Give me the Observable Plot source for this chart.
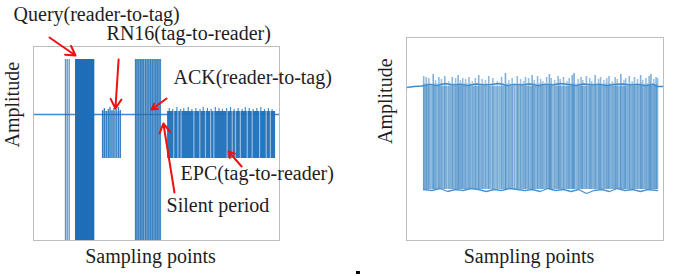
<!DOCTYPE html>
<html><head><meta charset="utf-8">
<script src="https://cdn.jsdelivr.net/npm/d3@7"></script>
<script src="https://cdn.jsdelivr.net/npm/@observablehq/plot@0.6"></script>
<style>
html,body{margin:0;padding:0;background:#fff;}
#wrap{position:relative;width:685px;height:276px;overflow:hidden;background:#fff;}
#wrap svg{position:absolute;top:0;overflow:visible;background:transparent;}
</style></head><body><div id="wrap"></div>
<script>
// ---- Left panel: RFID exchange (sample index 0..1000, amplitude) ----
const queryLead = [130, 137, 145];
const queryBlock = [172,175,178,181,184,187,190,193,196,199,202,205,208,211,214,217,220,223,226,229,232,235,238,241,244];
const queryRange = [-1.3, 0.55];
const rn16Pulses = [281,288,296,304,311,319,327,336,345,353];
const rn16Tops = [0.04,0.06,0.03,0.05,0.07,0.04,0.06,0.05,0.07,0.04];
const rn16Span = [280, 355];
const rn16Bottom = -0.44;
const ackPulses = [415,421,428,435,441,447,455,462,469,476,483,490,497,503,510,516];
const ackSpan = [414, 517];
const ackRange = [-1.3, 0.55];
const epcSpan = [545, 984];
const epcRange = [-0.44, 0.03];
const epcGaps = [570,587,600,652,676,699,720,733,787,808,821,841,869,889,919,946,963];
const epcSpikes = [552,566,583,598,611,629,644,660,677,690,707,722,739,754,768,785,801,816,832,848,861,877,893,908,924,939,955,970];
const epcSpikeTops = [0.06,0.05,0.07,0.05,0.06,0.07,0.05,0.06,0.05,0.07,0.06,0.05,0.07,0.06,0.05,0.06,0.07,0.05,0.06,0.05,0.07,0.06,0.05,0.06,0.07,0.05,0.06,0.05];

const leftLabels = ["Query(reader-to-tag)", "RN16(tag-to-reader)", "ACK(reader-to-tag)", "EPC(tag-to-reader)", "Silent period"];
const leftLabelX = [-81, 297, 569, 598, 541];
const leftLabelY = [1.0, 0.81, 0.37, -0.59, -0.91];
const arrowFrom = [[65, 0.77], [346, 0.55], [541, 0.16], [846, -0.52], [573, -0.78]];
const arrowTo   = [[171, 0.59], [333, 0.06], [480, 0.05], [793, -0.37], [528, -0.09]];
const strayMark = {x1: 1313, x2: 1329, y: -1.58};

// ---- Right panel ----
const rightSpan = [66, 977];
const rightRail = -1.03;
const rightPulses = [67,77,87,104,113,126,136,149,165,178,191,201,210,219,230,243,256,268,281,294,307,320,336,353,370,385,398,411,431,444,456,463,475,489,497,510,522,531,545,556,563,577,590,598,611,624,633,645,652,668,679,686,700,713,721,734,747,755,768,779,788,801,812,820,834,846,853,867,878,887,899,911,919,932,944,951,962,971,977];
const rightPeaks = [0.10,0.09,0.08,0.12,0.06,0.09,0.07,0.10,0.05,0.09,0.08,0.11,0.06,0.08,0.07,0.09,0.05,0.08,0.11,0.07,0.06,0.10,0.08,0.05,0.09,0.13,0.06,0.08,0.10,0.07,0.05,0.09,0.08,0.11,0.06,0.10,0.07,0.05,0.09,0.12,0.08,0.06,0.10,0.07,0.09,0.05,0.08,0.11,0.13,0.07,0.09,0.06,0.10,0.08,0.05,0.11,0.07,0.09,0.06,0.08,0.10,0.05,0.09,0.07,0.12,0.06,0.08,0.10,0.05,0.09,0.07,0.11,0.06,0.08,0.10,0.12,0.07,0.09,0.08];
const rightFine = [72,82,95,108,119,131,142,156,171,184,196,206,214,225,236,249,262,274,287,300,313,328,344,361,377,391,404,420,437,450,469,482,493,503,516,527,538,551,560,570,583,594,604,617,629,639,648,660,673,683,693,707,717,727,740,751,761,773,784,795,806,816,827,840,850,860,872,883,893,905,915,926,938,947,957,966,974];
const rightBaseX = [0,30,60,66,90,120,150,180,210,240,270,300,330,360,390,420,450,480,510,540,570,600,630,660,690,720,750,780,810,840,870,900,930,960,977,1000];
const rightBaseY = [-0.01,0,0.005,0.01,0.02,0.01,0.03,0.015,0.02,0.01,0.025,0.015,0.02,0.03,0.01,0.02,0.015,0.025,0.01,0.02,0.015,0.03,0.02,0.01,0.025,0.015,0.02,0.01,0.02,0.025,0.015,0.02,0.01,0.02,0.0,0.0];
const rightRailX = [66,100,130,160,190,220,250,280,310,340,370,400,430,460,490,520,550,580,610,640,670,700,730,760,790,820,850,880,910,940,977];
const rightRailY = [-1.03,-1.04,-1.02,-1.05,-1.03,-1.04,-1.02,-1.03,-1.05,-1.03,-1.04,-1.02,-1.03,-1.04,-1.03,-1.05,-1.02,-1.04,-1.03,-1.05,-1.03,-1.07,-1.04,-1.03,-1.05,-1.02,-1.04,-1.03,-1.05,-1.03,-1.04];

const xLabel = "Sampling points";
const yLabel = "Amplitude";

const FONT = "'Liberation Serif', 'Times New Roman', serif";
const DARK = "#1f6fb8";
const MID = "#2b7bbf";
const TXT = "#1e1e1e";
const FRAME = "#bdbdbd";

const wrap = document.getElementById("wrap");

const left = Plot.plot({
  width: 380, height: 276,
  marginLeft: 33, marginRight: 101, marginTop: 46, marginBottom: 36,
  x: {domain: [0, 1000], axis: null},
  y: {domain: [-1.26, 0.68], axis: null},
  style: {fontFamily: FONT, background: "transparent", overflow: "visible"},
  marks: [
    Plot.ruleY([0], {x1: 0, x2: 1000, stroke: "#3f8ad0", strokeWidth: 1.3}),
    // Query
    Plot.ruleX(queryLead, {x: d => d, y1: queryRange[0], y2: queryRange[1], stroke: DARK, strokeWidth: 1.3, strokeOpacity: 0.75, clip: true}),
    Plot.ruleX(queryBlock, {x: d => d, y1: queryRange[0], y2: queryRange[1], stroke: DARK, strokeWidth: 1.6, clip: true}),
    // RN16
    Plot.rect([0], {x1: rn16Span[0], x2: rn16Span[1], y1: rn16Bottom, y2: 0.03, fill: DARK, fillOpacity: 0.3}),
    Plot.ruleX(rn16Pulses, {x: d => d, y1: rn16Bottom, y2: (d, i) => rn16Tops[i], stroke: DARK, strokeWidth: 1.4, strokeOpacity: 0.85}),
    // ACK
    Plot.rect([0], {x1: ackSpan[0], x2: ackSpan[1], y1: ackRange[0], y2: ackRange[1], fill: DARK, fillOpacity: 0.45, clip: true}),
    Plot.ruleX(ackPulses, {x: d => d, y1: ackRange[0], y2: ackRange[1], stroke: DARK, strokeWidth: 1.3, strokeOpacity: 0.8, clip: true}),
    // EPC
    Plot.rect([0], {x1: epcSpan[0], x2: epcSpan[1], y1: epcRange[0], y2: epcRange[1], fill: DARK, fillOpacity: 0.95}),
    Plot.ruleX(epcSpikes, {x: d => d, y1: 0, y2: (d, i) => epcSpikeTops[i], stroke: DARK, strokeWidth: 1.2, strokeOpacity: 0.8}),
    Plot.ruleX(epcGaps, {x: d => d, y1: epcRange[0], y2: epcRange[1], stroke: "#ffffff", strokeWidth: 1.2, strokeOpacity: 0.5}),
    Plot.frame({stroke: FRAME}),
    // annotations
    Plot.arrow(arrowFrom.map((f, i) => ({f, t: arrowTo[i]})), {
      x1: d => d.f[0], y1: d => d.f[1], x2: d => d.t[0], y2: d => d.t[1],
      stroke: "#f01010", strokeWidth: 2, headLength: 8
    }),
    Plot.text(leftLabels, {x: (d, i) => leftLabelX[i], y: (d, i) => leftLabelY[i], text: d => d,
      textAnchor: "start", fontSize: 20, fontFamily: FONT, fill: TXT}),
    Plot.text([xLabel], {text: d => d, frameAnchor: "bottom", dx: -6, dy: 22, fontSize: 20, fontFamily: FONT, fill: TXT}),
    Plot.text([yLabel], {text: d => d, frameAnchor: "left", rotate: -90, dx: -21, dy: 4, fontSize: 20, fontFamily: FONT, fill: TXT}),
    Plot.ruleY([strayMark], {x1: "x1", x2: "x2", y: "y", stroke: "#000", strokeWidth: 3})
  ]
});
left.style.left = "0px";
wrap.appendChild(left);

const right = Plot.plot({
  width: 305, height: 276,
  marginLeft: 26, marginRight: 22, marginTop: 37, marginBottom: 36,
  x: {domain: [0, 1000], axis: null},
  y: {domain: [-1.54, 0.49], axis: null},
  style: {fontFamily: FONT, background: "transparent", overflow: "visible"},
  marks: [
    Plot.rect([0], {x1: rightSpan[0], x2: rightSpan[1], y1: rightRail, y2: 0, fill: MID, fillOpacity: 0.42}),
    Plot.ruleX(rightFine, {x: d => d, y1: rightRail, y2: 0.03, stroke: MID, strokeWidth: 1, strokeOpacity: 0.35}),
    Plot.ruleX(rightPulses, {x: d => d, y1: rightRail, y2: (d, i) => rightPeaks[i], stroke: MID, strokeWidth: 1.6,
      strokeOpacity: (d, i) => 0.25 + 3 * rightPeaks[i]}),
    Plot.line(rightBaseX.map((x, i) => ({x, y: rightBaseY[i]})), {x: "x", y: "y", stroke: "#3f8ccc", strokeWidth: 1.4}),
    Plot.line(rightRailX.map((x, i) => ({x, y: rightRailY[i]})), {x: "x", y: "y", stroke: "#4a92cf", strokeWidth: 1.3}),
    Plot.frame({stroke: FRAME}),
    Plot.text([xLabel], {text: d => d, frameAnchor: "bottom", dx: -6, dy: 22, fontSize: 20, fontFamily: FONT, fill: TXT}),
    Plot.text([yLabel], {text: d => d, frameAnchor: "left", rotate: -90, dx: -21, dy: 5, fontSize: 20, fontFamily: FONT, fill: TXT})
  ]
});
right.style.left = "380px";
wrap.appendChild(right);
</script></body></html>
